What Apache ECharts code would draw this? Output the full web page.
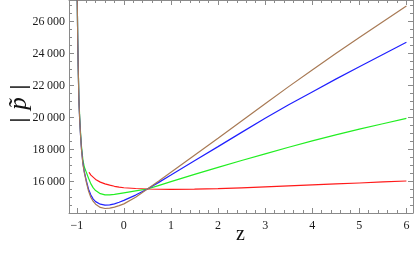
<!DOCTYPE html>
<html>
<head>
<meta charset="utf-8">
<script src="https://cdn.jsdelivr.net/npm/echarts@6/dist/echarts.min.js"></script>
<style>
html,body{margin:0;padding:0;background:#fff;}
#c{width:414px;height:254px;}
</style>
</head>
<body>
<div id="c"></div>
<script>
// ---- data ----
const zMain = [-0.995,-0.99,-0.98,-0.97,-0.955,-0.94,-0.92,-0.9,-0.87,-0.84,-0.8,-0.75,-0.7,-0.65,-0.6,-0.5,-0.4,-0.3,-0.2,-0.1,0,0.25,0.5,0.75,1,1.5,2,2.5,3,3.5,4,4.5,5,5.5,6];
const brownVals = [30500,27340,24900,23200,21100,20000,18900,18000,17100,16550,16000,15400,15000,14750,14580,14380,14310,14330,14400,14490,14600,15020,15530,16050,16580,17640,18700,19780,20860,21930,22970,24000,25000,25990,26970];
const blueVals = [30500,27340,24900,23200,21100,20000,18900,18050,17150,16620,16080,15520,15150,14900,14740,14580,14520,14540,14600,14700,14820,15150,15530,15960,16400,17300,18180,19070,19950,20800,21600,22400,23170,23940,24700];
const greenVals = [30500,27340,24950,23300,21200,20150,19050,18200,17350,16900,16600,16200,15850,15600,15430,15240,15160,15160,15190,15240,15290,15410,15530,15760,15990,16440,16880,17310,17730,18140,18540,18910,19270,19610,19940];
const zRed = [-0.74,-0.7,-0.6,-0.5,-0.4,-0.3,-0.2,-0.1,0,0.25,0.5,0.75,1,1.5,2,2.5,3,3.5,4,4.5,5,5.5,6];
const redVals = [16575,16400,16130,15960,15850,15770,15700,15650,15610,15560,15530,15515,15510,15520,15550,15605,15665,15725,15785,15845,15905,15970,16030];

const xTicks = [-1,0,1,2,3,4,5,6];
const yTicks = [16000,18000,20000,22000,24000,26000];
const xTitle = 'z';

const X_MIN = -1.165, X_MAX = 6.14;
const Y_MIN = 14030, Y_MAX = 27345;

const xMinor = [];
for (let i = -5; i <= 30; i++) { const v = +(i * 0.2).toFixed(2); if (v > X_MIN && v < X_MAX && Math.abs(v - Math.round(v)) > 1e-6) xMinor.push(v); }
const yMinor = [];
for (let v = 14500; v < Y_MAX; v += 500) { if (v % 2000 !== 0) yMinor.push(v); }

const frameColor = '#8a8a8a';
const font = '"Liberation Serif", "DejaVu Serif", serif';

function pairs(xs, ys) { return xs.map((x, i) => [x, ys[i]]); }
function fmtX(v) { return v < 0 ? '\u2212' + Math.abs(v) : String(v); }
function fmtY(v) { const s = String(v); return s.slice(0, s.length - 3) + '\u2009' + s.slice(-3); }

function xAx(pos, custom, len, showLabel, showLine) {
  return {
    type: 'value', position: pos, min: X_MIN, max: X_MAX,
    axisLine: { show: showLine, onZero: false, lineStyle: { color: frameColor, width: 1 } },
    axisTick: { show: true, inside: true, length: len, customValues: custom, lineStyle: { color: frameColor, width: 1 } },
    axisLabel: { show: showLabel, customValues: custom, formatter: fmtX, color: '#1a1a1a', fontFamily: font, fontSize: 12, margin: 7 },
    splitLine: { show: false }
  };
}
function yAx(pos, custom, len, showLabel, showLine) {
  return {
    type: 'value', position: pos, min: Y_MIN, max: Y_MAX,
    axisLine: { show: showLine, onZero: false, lineStyle: { color: frameColor, width: 1 } },
    axisTick: { show: true, inside: true, length: len, customValues: custom, lineStyle: { color: frameColor, width: 1 } },
    axisLabel: { show: showLabel, customValues: custom, formatter: fmtY, color: '#1a1a1a', fontFamily: font, fontSize: 12, margin: 4 },
    splitLine: { show: false }
  };
}

const chart = echarts.init(document.getElementById('c'), null, { renderer: 'canvas' });
const lineSeries = (name, color, data) => ({
  type: 'line', name, data, xAxisIndex: 0, yAxisIndex: 0,
  showSymbol: false, smooth: false, clip: true,
  lineStyle: { color, width: 1.2 }, animation: false
});
const rotText = (x, y, text, f) => ({
  type: 'text', x, y, rotation: Math.PI / 2,
  style: { text, font: f, fill: '#111', align: 'center', verticalAlign: 'middle' }
});

chart.setOption({
  animation: false,
  grid: { left: 69, right: 1, top: 0, bottom: 41, containLabel: false },
  xAxis: [
    xAx('bottom', xTicks, 5, true, true),
    xAx('bottom', xMinor, 3, false, false),
    xAx('top', xTicks, 5, false, true),
    xAx('top', xMinor, 3, false, false)
  ],
  yAxis: [
    yAx('left', yTicks, 5, true, true),
    yAx('left', yMinor, 3, false, false),
    yAx('right', yTicks, 5, false, true),
    yAx('right', yMinor, 3, false, false)
  ],
  graphic: [
    { type: 'text', left: 236, top: 225, style: { text: xTitle, font: '20px ' + font, fill: '#111' } },
    rotText(19, 120, '|', 'bold 22px ' + font),
    rotText(19, 103.5, 'p\u0303', 'italic 25px ' + font),
    rotText(19, 87, '|', 'bold 22px ' + font)
  ],
  series: [
    lineSeries('red', '#ff1a1a', pairs(zRed, redVals)),
    lineSeries('green', '#22ee22', pairs(zMain, greenVals)),
    lineSeries('blue', '#2020ff', pairs(zMain, blueVals)),
    lineSeries('brown', '#a87a55', pairs(zMain, brownVals))
  ]
});
</script>
</body>
</html>
